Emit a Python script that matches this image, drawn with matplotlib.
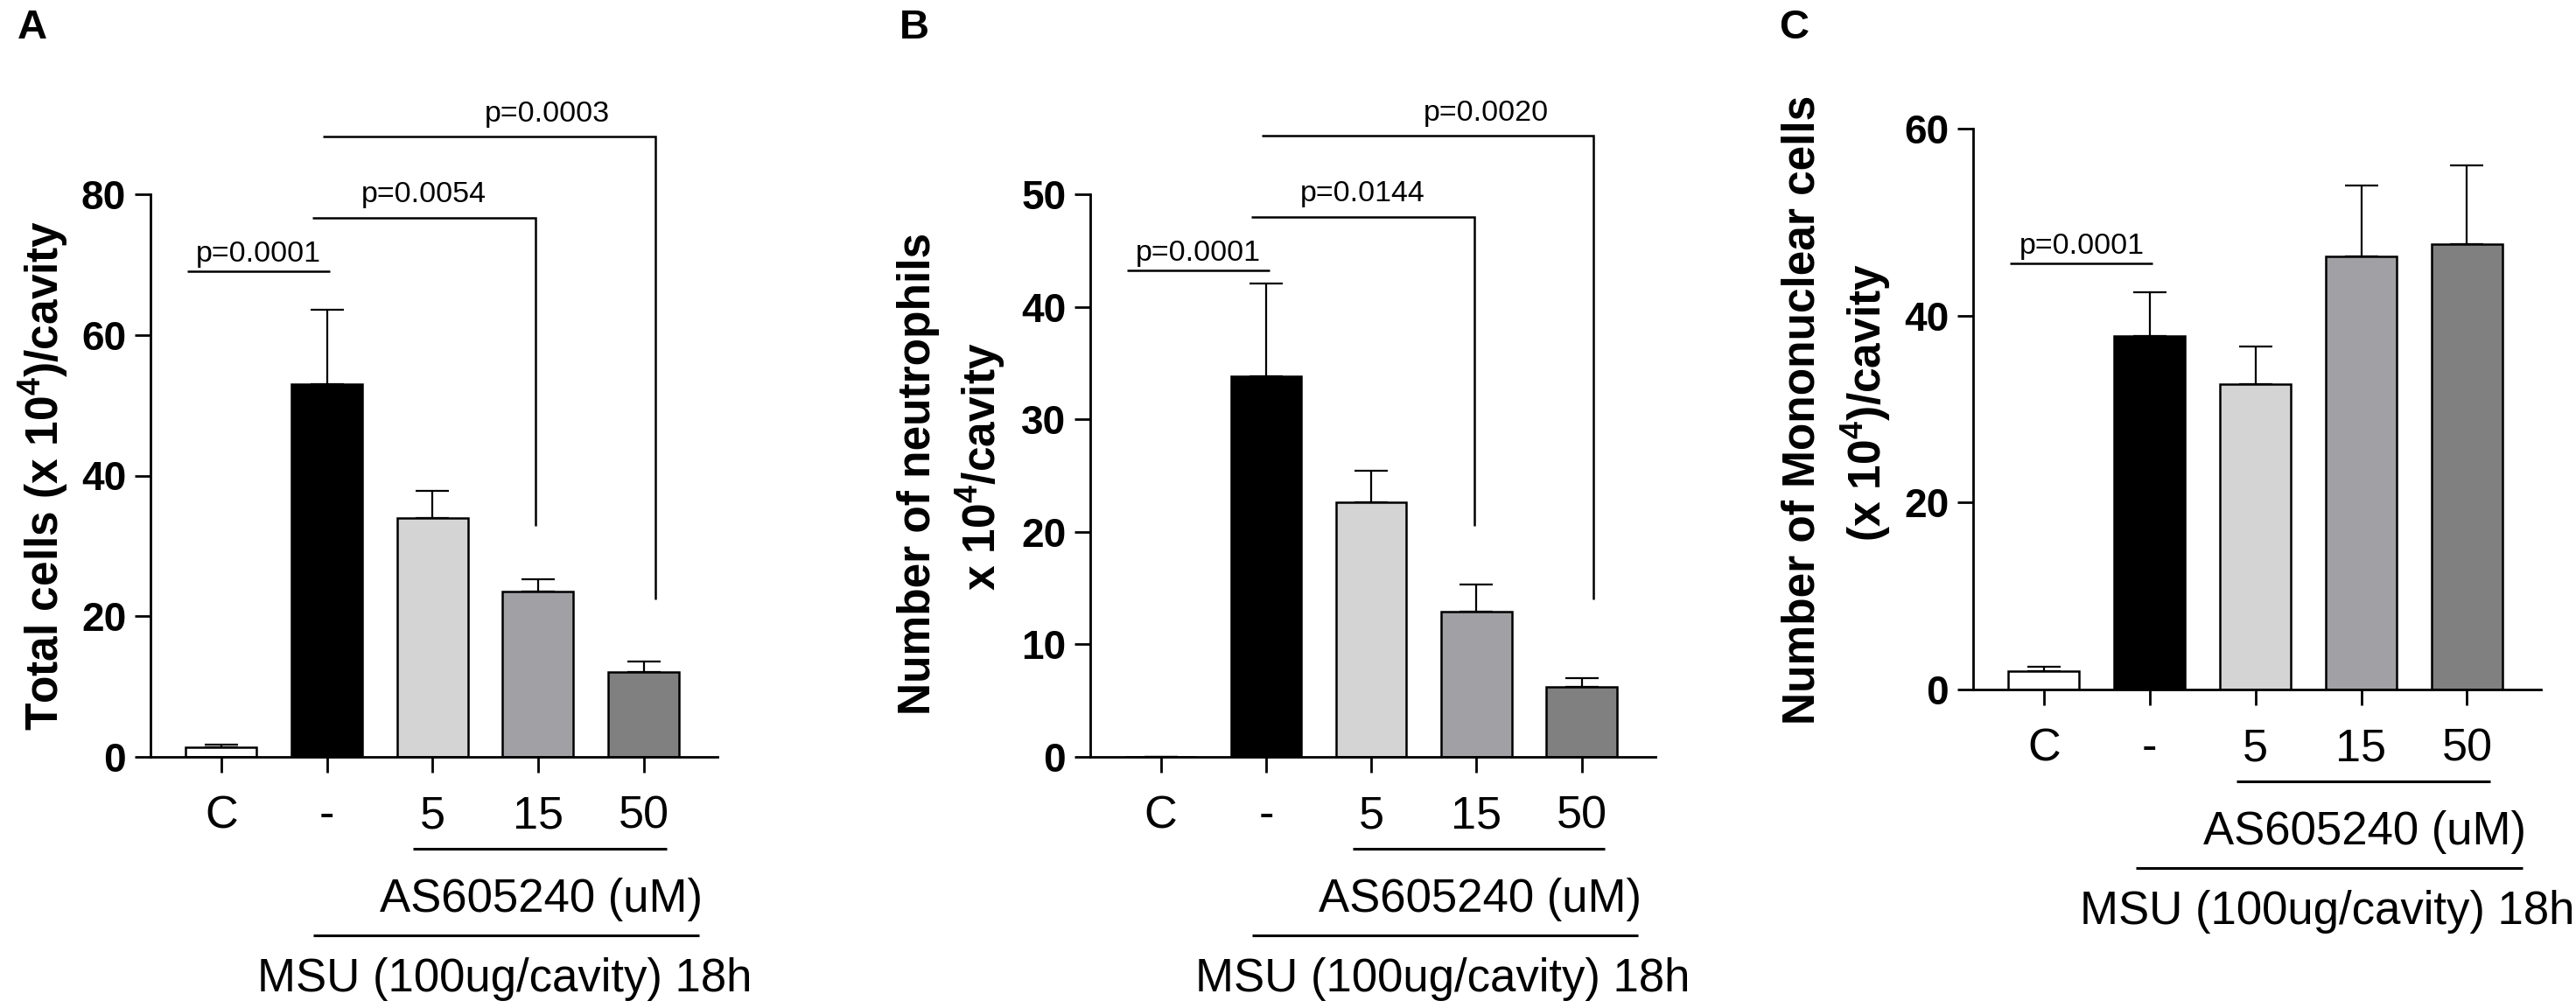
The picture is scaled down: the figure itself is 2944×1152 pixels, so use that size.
import matplotlib
matplotlib.use('Agg')
import matplotlib.pyplot as plt
from matplotlib import transforms
import numpy as np

plt.rcParams['font.family'] = ['Liberation Sans', 'DejaVu Sans']
plt.rcParams['mathtext.default'] = 'regular'

# ---------------- data ----------------
categories = ['C', '-', '5', '15', '50']
bar_colors = ['#ffffff', '#000000', '#d4d4d4', '#a1a1a5', '#808080']

total_mean = [1.4, 53.0, 34.0, 23.5, 12.05]
total_sem = [0.37, 10.6, 3.8, 1.7, 1.55]
neut_mean = [0.0, 33.8, 22.65, 12.9, 6.2]
neut_sem = [0.0, 8.3, 2.8, 2.4, 0.8]
mono_mean = [2.0, 37.85, 32.7, 46.3, 47.6]
mono_sem = [0.48, 4.65, 4.0, 7.65, 8.5]

total_ticks = [0, 20, 40, 60, 80]
neut_ticks = [0, 10, 20, 30, 40, 50]
mono_ticks = [0, 20, 40, 60]

total_pvals = ['p=0.0001', 'p=0.0054', 'p=0.0003']
neut_pvals = ['p=0.0001', 'p=0.0144', 'p=0.0020']
mono_pvals = ['p=0.0001']
total_bracket_y = [69.0, 76.7, 88.2]
total_drop_y = [None, 32.8, 22.4]
neut_bracket_y = [43.2, 48.0, 55.2]
neut_drop_y = [None, 20.5, 14.0]
mono_bracket_y = [45.6]
mono_drop_y = [None]

drug_label = 'AS605240 (uM)'
msu_label = 'MSU (100ug/cavity) 18h'

# ---------------- figure ----------------
W, H = 2944, 1152
fig = plt.figure(figsize=(W / 100, H / 100), dpi=100)


def px_axes(left, right, top, bottom):
    return fig.add_axes([left / W, 1 - bottom / H, (right - left) / W, (bottom - top) / H])


# bracket horizontal extents / text positions (x in category units), text offset (pt)
bracket_x = [(-0.32, 1.03, 0.355, 8), (0.86, 2.98, 1.92, 12.5), (0.96, 4.11, 3.09, 12.5)]


def draw_panel(ax, means, sems, ticks, pvals, br_y, drop_y):
    x = np.arange(len(categories))
    ax.bar(x, means, width=0.67, color=bar_colors, edgecolor='black',
           linewidth=1.8, zorder=2)
    ax.errorbar(x, means, yerr=[np.zeros(len(sems)), sems], fmt='none',
                ecolor='black', elinewidth=1.6, capsize=14, capthick=1.6, zorder=1)
    ax.set_xlim(-0.67, 4.70)
    ax.set_ylim(0, ticks[-1])
    ax.set_yticks(ticks)
    ax.set_xticks(x)
    ax.set_xticklabels(categories)
    for s in ['top', 'right']:
        ax.spines[s].set_visible(False)
    for s in ['left', 'bottom']:
        ax.spines[s].set_linewidth(2)
    ax.tick_params(axis='y', length=13, width=2, pad=7, labelsize=33)
    ax.tick_params(axis='x', length=13, width=2, pad=18, labelsize=37.5)
    for lbl in ax.get_yticklabels():
        lbl.set_fontweight('bold')

    for (x1, x2, tx, toff), y, yd, p in zip(bracket_x, br_y, drop_y, pvals):
        xs = [x1, x2]
        ys = [y, y]
        if yd is not None:
            xs = [x1, x2, x2]
            ys = [y, y, yd]
        ax.plot(xs, ys, color='black', lw=1.8, clip_on=False,
                solid_capstyle='butt', solid_joinstyle='miter')
        ax.annotate(p, xy=(tx, y), xytext=(0, toff), textcoords='offset points',
                    ha='center', va='baseline', fontsize=24.5, annotation_clip=False)

    base = transforms.blended_transform_factory(ax.transData, ax.transAxes)

    def off(dy):
        return base + transforms.ScaledTranslation(0, -dy / 100, fig.dpi_scale_trans)

    ax.plot([1.82, 4.22], [0, 0], transform=off(105), color='black', lw=2.2,
            clip_on=False, solid_capstyle='butt')
    ax.text(3.03, 0, drug_label, transform=off(177), ha='center', va='baseline',
            fontsize=38)
    ax.plot([0.87, 4.53], [0, 0], transform=off(204), color='black', lw=2.2,
            clip_on=False, solid_capstyle='butt')
    ax.text(2.68, 0, msu_label, transform=off(268), ha='center', va='baseline',
            fontsize=38)


axA = px_axes(172, 820, 222, 865)
axB = px_axes(1246, 1892, 222, 865)
axC = px_axes(2255, 2904, 147, 788)

draw_panel(axA, total_mean, total_sem, total_ticks, total_pvals, total_bracket_y, total_drop_y)
draw_panel(axB, neut_mean, neut_sem, neut_ticks, neut_pvals, neut_bracket_y, neut_drop_y)
draw_panel(axC, mono_mean, mono_sem, mono_ticks, mono_pvals, mono_bracket_y, mono_drop_y)


def ylab(text, bx, cy):
    fig.text(bx / W, 1 - cy / H, text, rotation=90, rotation_mode='anchor',
             ha='center', va='baseline', fontsize=37, fontweight='bold')


ylab('Total cells (x 10$^{4}$)/cavity', 67, 543)
ylab('Number of neutrophils', 1063, 541)
ylab('x 10$^{4}$/cavity', 1138, 533)
ylab('Number of Mononuclear cells', 2073, 468)
ylab('(x 10$^{4}$)/cavity', 2150, 460)

for lab, px in zip(['A', 'B', 'C'], [20, 1028, 2033]):
    fig.text(px / W, 1 - 44 / H, lab, ha='left', va='baseline', fontsize=34,
             fontweight='bold')

fig.savefig('out.png', dpi=100)
